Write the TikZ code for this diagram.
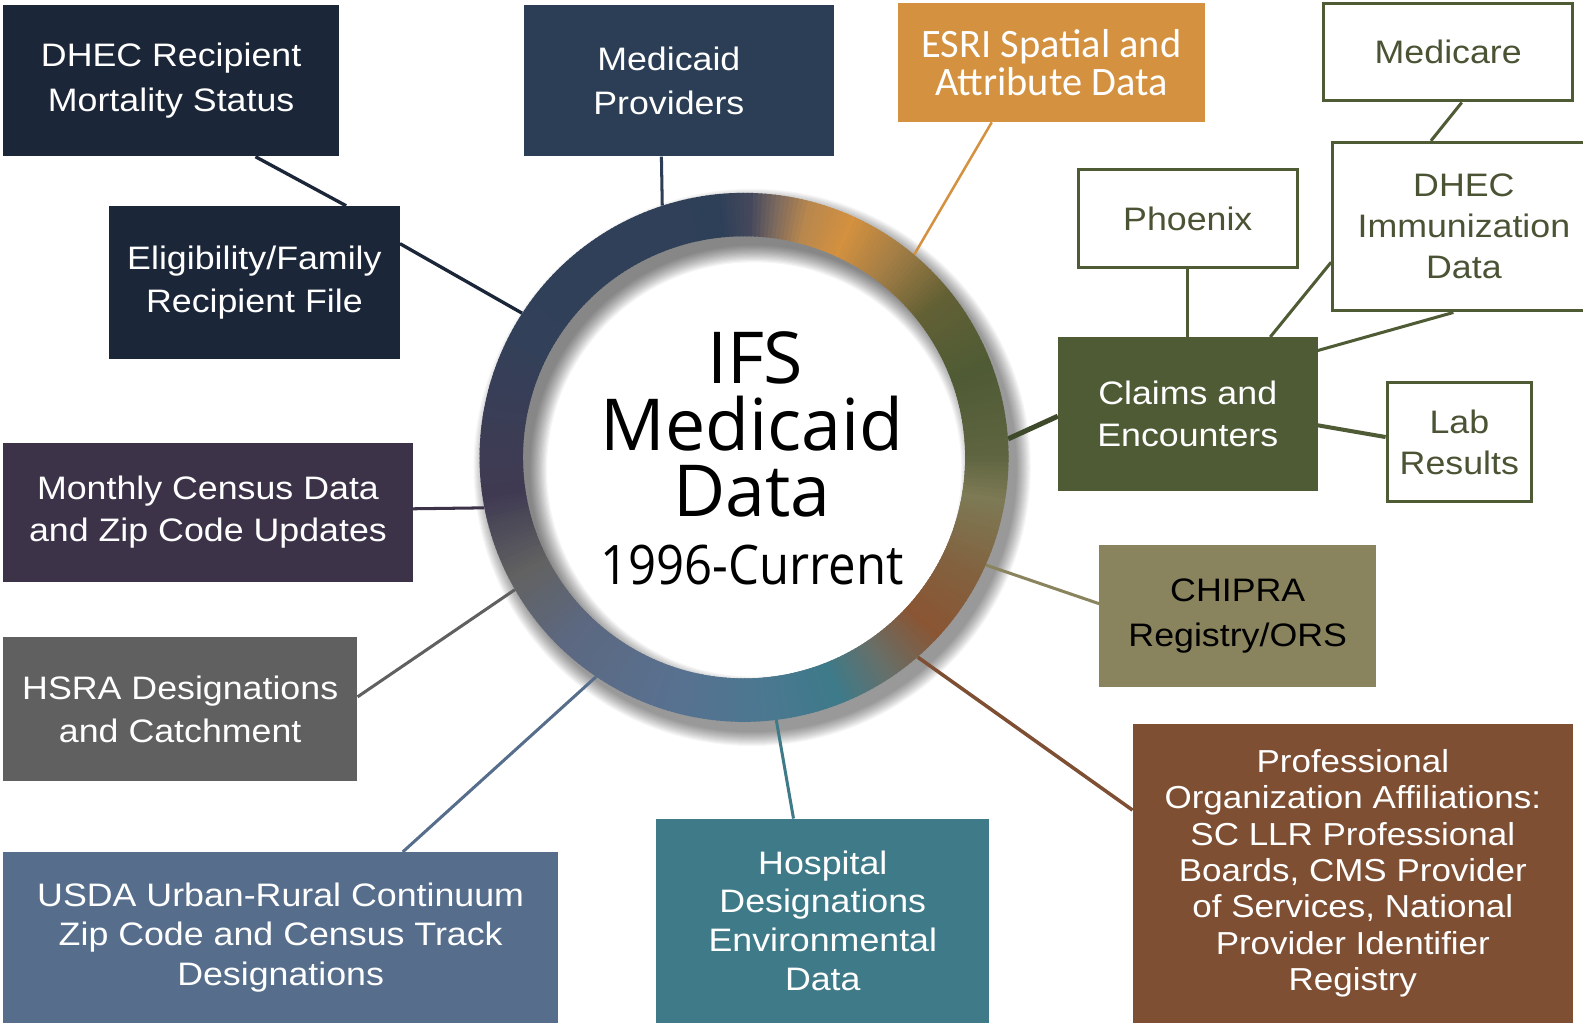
\documentclass[tikz,border=0pt]{standalone}
\usepackage{fontspec}
\setmainfont{Liberation Sans}[FakeStretch=1.1]
\newfontfamily\ttlfont{Open Sans}
\newfontfamily\yrfont{Open Sans}[FakeStretch=0.9]
\newfontfamily\esrifont{Carlito}
\usetikzlibrary{calc}
\pgfdeclarelayer{back}
\pgfdeclarelayer{bg}
\pgfsetlayers{back,bg,main}

\definecolor{cnavy}{HTML}{1B2638}
\definecolor{cprov}{HTML}{2C3E55}
\definecolor{corange}{HTML}{D4913F}
\definecolor{colive}{HTML}{4F5B35}
\definecolor{colivedk}{HTML}{3F4A2A}
\definecolor{ckhaki}{HTML}{8A845E}
\definecolor{cbrown}{HTML}{7E4F33}
\definecolor{cteal}{HTML}{3F7A88}
\definecolor{cslate}{HTML}{566E8C}
\definecolor{cgray}{HTML}{606060}
\definecolor{cpurple}{HTML}{3C3349}
\definecolor{colivetext}{HTML}{4A5334}

\definecolor{g0}{HTML}{5E6440}
\definecolor{g20}{HTML}{4F5B35}
\definecolor{g38}{HTML}{626035}
\definecolor{g52}{HTML}{A07C45}
\definecolor{g65}{HTML}{D4913F}
\definecolor{g75}{HTML}{B8874E}
\definecolor{g82}{HTML}{7C6A5E}
\definecolor{g88}{HTML}{45485C}
\definecolor{g95}{HTML}{2E4058}
\definecolor{g150}{HTML}{324059}
\definecolor{g175}{HTML}{3C3D55}
\definecolor{g188}{HTML}{3F3A52}
\definecolor{g207}{HTML}{626262}
\definecolor{g225}{HTML}{5C6880}
\definecolor{g253}{HTML}{587190}
\definecolor{g275}{HTML}{4B7890}
\definecolor{g291}{HTML}{3D7A8A}
\definecolor{g303}{HTML}{66706A}
\definecolor{g317}{HTML}{8A5533}
\definecolor{g332}{HTML}{83613F}
\definecolor{g350}{HTML}{7D7A55}
\definecolor{g360}{HTML}{5E6440}

\tikzset{
  box/.style={rectangle, inner sep=0pt, align=center, text=white,
              font=\fontsize{32.2}{42}\selectfont},
  wbox/.style={box, fill=white, draw=colive, line width=3pt, text=colivetext},
  conn/.style={line width=3pt},
  ttl/.style={anchor=base, inner sep=0pt, text=black, font=\ttlfont\fontsize{71}{72}\selectfont}
}

\begin{document}
\begin{tikzpicture}[x=1pt, y=-1pt]
\useasboundingbox (0,0) rectangle (1568,1013);
\begin{pgfonlayer}{back}
  \fill[white] (0,0) rectangle (1568,1013);
\end{pgfonlayer}

% white disc, inner shadow, gradient ring
\fill[white] (737,453) circle[radius=219];
\begin{scope}
  \clip (737,453) circle[radius=219];
  \foreach \k in {0,...,14}{
    \fill[black, opacity=0.04, even odd rule] (400,100) rectangle (1100,800)
      (747,465) circle[radius=222-1.2*\k];
  }
\end{scope}
\begin{scope}[shift={(737,453)}, yscale=-1]
  \foreach \angA/\angB/\colA/\colB in {0/20/g0/g20, 20/38/g20/g38, 38/52/g38/g52,
      52/65/g52/g65, 65/75/g65/g75, 75/82/g75/g82, 82/88/g82/g88, 88/95/g88/g95,
      95/150/g95/g150, 150/175/g150/g175, 175/188/g175/g188, 188/207/g188/g207,
      207/225/g207/g225, 225/253/g225/g253, 253/275/g253/g275, 275/291/g275/g291,
      291/303/g291/g303, 303/317/g303/g317, 317/332/g317/g332, 332/350/g332/g350,
      350/360/g350/g360}{
    \pgfmathtruncatemacro{\nn}{\angB-\angA-1}
    \foreach \i in {0,...,\nn}{
      \pgfmathsetmacro{\pp}{100*\i/(\angB-\angA)}
      \pgfmathsetmacro{\myst}{\angA+\i}
      \draw[line width=43pt, color=\colB!\pp!\colA] (\myst:240.5)
        arc[start angle=\myst, end angle=\myst+1.4, radius=240.5];
    }
  }
\end{scope}
\node[circle, inner sep=0pt, minimum size=524pt] (ring) at (737,453) {};

% centre text
\node[ttl] (tifs) at (748,379.5) {IFS};
\node[ttl] (tmed) at (745,446) {Medicaid};
\node[ttl] (tdata) at (745,512) {Data};
\node[anchor=base, inner sep=0pt, text=black, font=\yrfont\fontsize{54}{56}\selectfont]
  (tyear) at (745,579) {1996-Current};

% boxes
\node[box, fill=cnavy, minimum width=333pt, minimum height=150pt, font=\fontsize{32.2}{44}\selectfont]
  (dhec1) at (169.5,80) {DHEC Recipient\\Mortality Status};
\node[box, fill=cprov, minimum width=307pt, minimum height=150pt, font=\fontsize{32.2}{44}\selectfont]
  (mprov) at (672.5,80) {\hspace*{-20pt}Medicaid\\\hspace*{-20pt}Providers};
\node[box, fill=corange, minimum width=305pt, minimum height=118pt, font=\esrifont\fontsize{40}{38}\selectfont]
  (esri) at (1041.5,62) {ESRI Spatial and\\Attribute Data};
\node[wbox, minimum width=247pt, minimum height=97pt]
  (medicare) at (1434.5,51.5) {Medicare};
\node[wbox, minimum width=260pt, minimum height=167pt, font=\fontsize{32.2}{40.5}\selectfont]
  (immun) at (1450,224.5) {DHEC\\Immunization\\Data};
\node[wbox, minimum width=217pt, minimum height=97pt]
  (phoenix) at (1176.5,216.5) {Phoenix};
\node[box, fill=colive, minimum width=257pt, minimum height=152pt, font=\fontsize{32.2}{41}\selectfont]
  (claims) at (1176.5,410) {Claims and\\Encounters};
\node[wbox, minimum width=143pt, minimum height=118pt, font=\fontsize{32.2}{40}\selectfont]
  (lab) at (1445.5,438) {Lab\\Results};
\node[box, fill=ckhaki, text=black, minimum width=274pt, minimum height=140pt, font=\fontsize{32.2}{44}\selectfont]
  (chipra) at (1226,610) {CHIPRA\\Registry/ORS};
\node[box, fill=cbrown, minimum width=436pt, minimum height=296pt, font=\fontsize{31.5}{36}\selectfont]
  (prof) at (1340,865) {Professional\\Organization Affiliations:\\SC LLR Professional\\Boards, CMS Provider\\of Services, National\\Provider Identifier\\Registry};
\node[box, fill=cteal, minimum width=330pt, minimum height=202pt, font=\fontsize{32.2}{38.5}\selectfont]
  (hosp) at (815,912) {Hospital\\Designations\\Environmental\\Data};
\node[box, fill=cslate, minimum width=550pt, minimum height=169pt, font=\fontsize{32.2}{39}\selectfont]
  (usda) at (278,928.5) {USDA Urban-Rural Continuum\\Zip Code and Census Track\\Designations};
\node[box, fill=cgray, minimum width=351pt, minimum height=143pt]
  (hsra) at (178.5,702.5) {HSRA Designations\\and Catchment};
\node[box, fill=cpurple, minimum width=406pt, minimum height=137pt]
  (monthly) at (206,507.5) {Monthly Census Data\\and Zip Code Updates};
\node[box, fill=cnavy, minimum width=288pt, minimum height=152pt]
  (elig) at (252,280) {Eligibility/Family\\Recipient File};

% shadow and connectors
\begin{pgfonlayer}{bg}
  \foreach \k in {0,...,14}{
    \fill[black, opacity=0.03] (745,463) circle[radius=262+\k];
  }
  \draw[conn, cnavy, line width=3.3pt] (dhec1.318.7) -- (elig.40.8);
  \draw[conn, cnavy, line width=3.3pt] (elig.15.5) -- (ring.147.5);
  \draw[conn, cprov] (mprov.257) -- (ring.108);
  \draw[conn, corange, line width=2.5pt] (esri.225.2) -- (ring.50.2);
  \draw[conn, colive] (medicare.285.6) -- (immun.111);
  \draw[conn, colive] (phoenix.south) -- (claims.north);
  \draw[conn, colive] (immun.195.3) -- (claims.43);
  \draw[conn, colive] (immun.263.2) -- (claims.26.8);
  \draw[conn, colivedk, line width=5pt] (claims.181.8) -- (ring.4.8);
  \draw[conn, colive, line width=4pt] (claims.355.1) -- (lab.176.8);
  \draw[conn, ckhaki] (chipra.175) -- (ring.336.4);
  \draw[conn, cbrown, line width=3.5pt] (prof.164.9) -- (ring.311.1);
  \draw[conn, cteal] (hosp.106.5) -- (ring.277.2);
  \draw[conn, cslate] (usda.35.6) -- (ring.236.5);
  \draw[conn, cgray] (hsra.4.1) -- (ring.210.6);
  \draw[conn, cpurple] (monthly.1.3) -- (ring.191);
\end{pgfonlayer}
\end{tikzpicture}
\end{document}
